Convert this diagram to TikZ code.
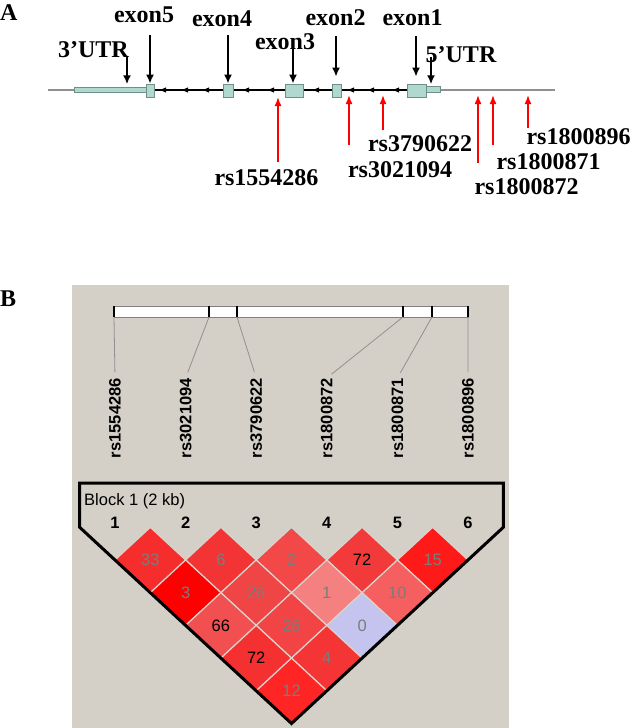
\documentclass[tikz,border=0pt]{standalone}
\usepackage{fontspec}
\setmainfont{Liberation Serif}
\newfontfamily\hv{Liberation Sans}
\usetikzlibrary{arrows.meta}
\definecolor{exfill}{HTML}{B0D8CF}
\definecolor{exline}{HTML}{6F8F89}
\definecolor{panelbg}{HTML}{D4D0C8}
\definecolor{numgray}{HTML}{7C7C7C}
\definecolor{gridline}{HTML}{D8D4CE}
\definecolor{genegray}{HTML}{909090}
\definecolor{dA}{HTML}{F52D2D}
\definecolor{dB}{HTML}{F23434}
\definecolor{dC}{HTML}{F24848}
\definecolor{dD}{HTML}{F23A3A}
\definecolor{dE}{HTML}{FF1A1A}
\definecolor{dF}{HTML}{FF0000}
\definecolor{dG}{HTML}{F04545}
\definecolor{dH}{HTML}{F58080}
\definecolor{dI}{HTML}{F55F5F}
\definecolor{dJ}{HTML}{F25050}
\definecolor{dK}{HTML}{F24444}
\definecolor{dL}{HTML}{C4C4EE}
\definecolor{dM}{HTML}{F53030}
\definecolor{dN}{HTML}{F53535}
\definecolor{dO}{HTML}{FF2525}
\begin{document}
\begin{tikzpicture}[x=1pt,y=-1pt,
  lab/.style={font=\fontsize{24}{24}\selectfont\bfseries, anchor=base, inner sep=0pt},
  exonbox/.style={draw=exline, fill=exfill, line width=0.8pt, inner sep=0pt, rectangle},
  blkarr/.style={-{Latex[length=9pt,width=8pt]}, line width=1.8pt, black},
  redarr/.style={-{Latex[length=9pt,width=7pt]}, line width=1.6pt, red},
  snplab/.style={font=\hv\bfseries\fontsize{16.5}{16.5}\selectfont, rotate=90, anchor=east, inner sep=0pt},
  conn/.style={draw=genegray, line width=0.8pt},
  num/.style={font=\hv\fontsize{16.5}{16.5}\selectfont, inner sep=0pt},
  topnum/.style={font=\hv\bfseries\fontsize{16.5}{16.5}\selectfont, anchor=base, inner sep=0pt}
]
\useasboundingbox (0,0) rectangle (632,728);
\fill[white] (0,0) rectangle (632,728);

% ---------- Panel A ----------
\node[lab, anchor=base west] (A) at (0,20) {A};
\draw[genegray, line width=1.4pt] (48,90) -- (555,90);
\draw[black, line width=1.1pt] (154,90) -- (407,90);
\foreach \x in {160,182,203,243,268,313,348,368,393}
  \fill[black] (\x,90) -- ++(6,-2.6) -- ++(0,5.2) -- cycle;

\node[exonbox, minimum width=72pt, minimum height=5pt] (utr3) at (110,90.2) {};
\node[exonbox, minimum width=8pt, minimum height=13pt] (ex5) at (150,90.5) {};
\node[exonbox, minimum width=10pt, minimum height=13pt] (ex4) at (228,90.5) {};
\node[exonbox, minimum width=18pt, minimum height=13pt] (ex3) at (294,90.5) {};
\node[exonbox, minimum width=9pt, minimum height=13pt] (ex2) at (336.5,90.5) {};
\node[exonbox, minimum width=14pt, minimum height=6pt] (utr5) at (433,89.7) {};
\node[exonbox, minimum width=19pt, minimum height=13pt] (ex1) at (416.5,90.5) {};

\node[lab] (l3utr) at (93.5,57) {3’UTR};
\node[lab] (l5) at (144,22) {exon5};
\node[lab] (l4) at (222,26) {exon4};
\node[lab] (l3) at (285,49) {exon3};
\node[lab] (l2) at (335.5,25) {exon2};
\node[lab] (l1) at (412.5,25) {exon1};
\node[lab] (l5utr) at (461,62) {5’UTR};

\coordinate (a3u) at (127,57);
\coordinate (a5) at (150,35);
\coordinate (a4) at (228,35);
\coordinate (a3) at (293,47);
\coordinate (a2) at (336,36);
\coordinate (a1) at (416,36);
\coordinate (a5u) at (431,57);
\draw[blkarr, shorten >=3pt] (a3u) -- (a3u |- utr3.north);
\draw[blkarr] (a5) -- (ex5.north);
\draw[blkarr] (a4) -- (ex4.north);
\draw[blkarr] (a3) -- (a3 |- ex3.north);
\draw[blkarr, shorten >=7pt] (a2) -- (a2 |- ex2.north);
\draw[blkarr, shorten >=7pt] (a1) -- (a1 |- ex1.north);
\draw[blkarr, shorten >=2pt] (a5u) -- (a5u |- utr5.north);

\node[lab] (r1) at (266.5,185) {rs1554286};
\node[lab] (r2) at (400,177) {rs3021094};
\node[lab] (r3) at (420,151) {rs3790622};
\node[lab] (r4) at (526.5,194) {rs1800872};
\node[lab] (r5) at (548.5,169) {rs1800871};
\node[lab] (r6) at (578.5,144) {rs1800896};

\coordinate (s1b) at (278,162); \coordinate (s1t) at (278,97);
\coordinate (s2b) at (349,145); \coordinate (s2t) at (349,95);
\coordinate (s3b) at (383,130); \coordinate (s3t) at (383,95);
\coordinate (s4b) at (478,163); \coordinate (s4t) at (478,95);
\coordinate (s5b) at (493,145); \coordinate (s5t) at (493,95);
\coordinate (s6b) at (528,128); \coordinate (s6t) at (528,95);
\foreach \k in {1,...,6} \draw[redarr] (s\k b) -- (s\k t);

% ---------- Panel B ----------
\node[lab, anchor=base west] (B) at (0,306) {B};
\fill[panelbg] (72,285) rectangle (509,728);

\node[draw=gray, fill=white, line width=0.8pt, inner sep=0pt, minimum width=354pt, minimum height=11pt] (bar) at (291,311.5) {};
\foreach \k/\x in {1/114,2/209,3/237,4/403,5/432,6/468} {
  \coordinate (t\k) at (\x,317);
  \draw[black, line width=1.4pt] (\x,306) -- (t\k);
}

\foreach \k/\name in {1/rs1554286,2/rs3021094,3/rs3790622,4/rs1800872,5/rs1800871,6/rs1800896} {
  \pgfmathsetmacro\lx{115+70.6*(\k-1)}
  \node[snplab] (L\k) at (\lx,378) {\name};
  \draw[conn, shorten >=6pt] (t\k) -- (L\k.east);
  \node[topnum] (T\k) at (\lx,528) {\k};
}

\node[font=\hv\fontsize{16.5}{16.5}\selectfont, anchor=base west, inner sep=0pt] (blk) at (84,505) {Block 1 (2 kb)};

\def\ldlist{1/2/dA/33/numgray, 2/3/dB/6/numgray, 3/4/dC/2/numgray, 4/5/dD/72/black, 5/6/dE/15/numgray,
  1/3/dF/3/numgray, 2/4/dG/26/numgray, 3/5/dH/1/numgray, 4/6/dI/10/numgray,
  1/4/dJ/66/black, 2/5/dK/26/numgray, 3/6/dL/0/numgray,
  1/5/dM/72/black, 2/6/dN/4/numgray,
  1/6/dO/12/numgray}
\foreach \i/\j/\c/\v/\t in \ldlist {
  \pgfmathsetmacro\cx{115+70.6*(\i+\j-2)/2}
  \pgfmathsetmacro\cy{560+32.7*(\j-\i-1)}
  \filldraw[fill=\c, draw=gridline, line width=1.2pt] (\cx-35.3,\cy) -- (\cx,\cy-32.7) -- (\cx+35.3,\cy) -- (\cx,\cy+32.7) -- cycle;
}
\foreach \i/\j/\c/\v/\t in \ldlist {
  \pgfmathsetmacro\cx{115+70.6*(\i+\j-2)/2}
  \pgfmathsetmacro\cy{560+32.7*(\j-\i-1)}
  \node[num, text=\t] (n\i\j) at (\cx,\cy) {\v};
}

\draw[black, line width=3pt, line join=miter] (79.7,483) -- (503.3,483) -- (503.3,527.3) -- (291.5,723.5) -- (79.7,527.3) -- cycle;
\end{tikzpicture}
\end{document}
